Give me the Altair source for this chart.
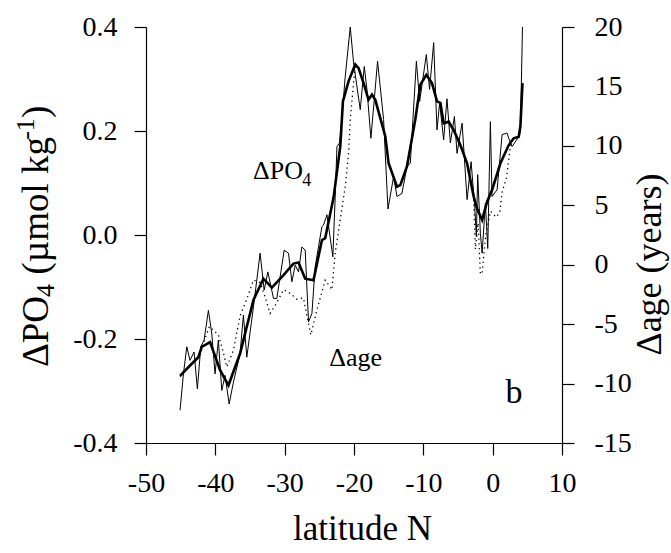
import altair as alt
import pandas as pd

# ---------------- data ----------------
thin_lat = [-45.09, -44.60, -44.12, -43.65, -43.07, -42.59, -42.10, -41.62, -41.00, -40.51,
            -40.04, -39.56, -39.07, -38.59, -38.01, -37.39, -36.43, -35.95, -35.46, -34.50,
            -33.54, -32.96, -32.43, -31.61, -31.13, -30.07, -29.45, -28.96, -28.48, -28.00,
            -27.52, -27.04, -26.56, -26.07, -25.60, -24.63, -24.40, -23.90, -23.05, -22.71,
            -22.46, -22.08, -21.74, -21.30, -20.54, -20.06, -19.10, -18.52, -18.13, -17.56,
            -16.60, -15.73, -15.10, -14.29, -13.80, -13.08, -12.36, -11.88, -11.00, -10.53,
            -9.57, -9.10, -8.51, -8.03, -7.65, -7.07, -6.59, -6.10, -5.52, -5.14,
            -4.41, -3.69, -3.11, -2.59, -2.35, -2.16, -1.77, -1.52, -1.05, -0.71,
            -0.33, -0.09, 0.64, 1.36, 2.08, 2.32, 2.80, 3.76, 4.00, 4.30]
thin_po4 = [-0.337, -0.267, -0.215, -0.241, -0.225, -0.296, -0.215, -0.202, -0.145, -0.190,
            -0.267, -0.202, -0.299, -0.270, -0.325, -0.283, -0.228, -0.154, -0.235, -0.138,
            -0.035, -0.106, -0.071, -0.122, -0.122, -0.029, -0.035, -0.090, -0.058, -0.071,
            -0.023, -0.029, -0.167, -0.151, -0.061, 0.016, 0.019, 0.039, -0.042, 0.074,
            0.170, 0.177, 0.222, 0.300, 0.400, 0.331, 0.241, 0.324, 0.280, 0.186,
            0.334, 0.222, 0.050, 0.112, 0.074, 0.080, 0.132, 0.138, 0.334, 0.257,
            0.347, 0.280, 0.370, 0.202, 0.254, 0.183, 0.262, 0.177, 0.228, 0.157,
            0.215, 0.068, 0.141, 0.055, -0.003, 0.116, 0.003, -0.035, 0.061, -0.026,
            0.218, 0.074, 0.087, 0.193, 0.196, 0.186, 0.170, 0.189, 0.200, 0.400]

smooth_lat = [-45.09, -43.65, -42.45, -41.96, -40.76, -39.31, -38.11, -36.43, -34.50, -33.06,
              -31.85, -30.17, -28.73, -28.00, -27.04, -25.84, -24.63, -24.15, -22.95, -21.98,
              -21.60, -20.78, -19.82, -19.34, -18.62, -17.90, -17.41, -16.93, -15.49, -15.01,
              -13.80, -13.32, -12.36, -11.16, -10.43, -9.57, -8.75, -8.03, -7.54, -7.07,
              -6.35, -5.63, -4.66, -3.69, -2.74, -2.25, -1.52, -0.80, -0.08, 1.12,
              2.32, 3.04, 3.76, 4.00, 4.30]
smooth_po4 = [-0.271, -0.251, -0.235, -0.215, -0.206, -0.260, -0.289, -0.228, -0.125, -0.084,
              -0.101, -0.077, -0.055, -0.053, -0.084, -0.087, -0.010, -0.006, 0.072, 0.170,
              0.257, 0.296, 0.328, 0.321, 0.292, 0.260, 0.270, 0.260, 0.190, 0.138,
              0.093, 0.096, 0.132, 0.222, 0.289, 0.308, 0.292, 0.257, 0.254, 0.215,
              0.218, 0.202, 0.173, 0.138, 0.074, 0.051, 0.029, 0.064, 0.087, 0.138,
              0.173, 0.186, 0.189, 0.209, 0.292]

age_lat = [-45.09, -43.65, -42.45, -41.72, -40.86, -39.56, -38.84, -38.35, -37.39, -36.43,
           -35.46, -34.50, -33.54, -32.82, -32.10, -31.13, -30.17, -29.21, -28.24, -27.28,
           -26.80, -26.22, -25.35, -24.15, -23.18, -22.71, -21.99, -21.26, -20.78, -20.54,
           -19.82, -19.34, -18.62, -17.90, -17.41, -16.93, -15.49, -15.01, -13.80, -13.32,
           -12.36, -11.16, -10.43, -9.57, -8.75, -8.03, -7.54, -7.07, -6.35, -5.63,
           -4.66, -3.69, -2.74, -2.49, -2.10, -1.77, -1.52, -1.00, -0.30, 0.50,
           1.03, 1.36, 1.99, 2.60, 3.04, 3.76, 4.00, 4.30]
age_val = [-9.4, -8.5, -7.8, -6.6, -5.2, -5.9, -7.4, -8.6, -7.2, -4.3,
           -2.9, -1.3, -1.5, -2.7, -4.1, -3.2, -2.1, -2.4, -2.9, -2.8,
           -4.3, -5.9, -3.8, -1.3, -2.1, 1.0, 3.8, 6.6, 9.4, 12.2,
           16.85, 16.54, 15.28, 13.88, 14.31, 13.88, 10.81, 8.54, 6.57, 6.70,
           8.28, 12.21, 15.14, 15.98, 15.28, 13.74, 13.61, 11.91, 12.04, 11.34,
           10.07, 8.54, 5.74, 1.3, 3.5, -0.8, -0.7, 2.5, 4.5, 4.0,
           4.4, 6.1, 7.3, 10.2, 10.64, 10.77, 11.64, 15.3]

x_ticks = [-50, -40, -30, -20, -10, 0, 10]
po4_ticks = [-0.4, -0.2, 0.0, 0.2, 0.4]
age_ticks = [-15, -10, -5, 0, 5, 10, 15, 20]

# annotation texts placed in data coordinates (lat, ΔPO4)
ann_po4_main = ("ΔPO", -34.55, 0.107)
ann_po4_sub = ("4", -27.46, 0.095)
ann_age = ("Δage", -23.57, -0.2525)
ann_panel = ("b", 1.84, -0.324)

FONT = "Liberation Serif"
MINUS = "replace(datum.label, '\u2212', '-')"
RIGHT_LBL = "datum.value < 0 ? replace(datum.label, '\u2212', '-') : '\u2004' + datum.label"

xscale = alt.Scale(domain=[-50, 10], nice=False, zero=False)
yscale = alt.Scale(domain=[-0.4, 0.4], nice=False, zero=False)
ascale = alt.Scale(domain=[-15, 20], nice=False, zero=False)

df_thin = pd.DataFrame({"lat": thin_lat, "po4": thin_po4})
df_smooth = pd.DataFrame({"lat": smooth_lat, "po4": smooth_po4})
df_age = pd.DataFrame({"lat": age_lat, "age": age_val})

x_axis = alt.Axis(values=x_ticks, labelExpr=MINUS, title="latitude N",
                  titleX=216, titleY=96, titleAlign="center", titleBaseline="alphabetic",
                  titleFontSize=35, labelPadding=14, labelFlush=False)
y_axis = alt.Axis(values=po4_ticks, format=".1f", labelExpr=MINUS, title="",
                  labelPadding=17, labelFlush=False)


def xenc():
    return alt.X("lat:Q", scale=xscale, axis=x_axis)


def yenc():
    return alt.Y("po4:Q", scale=yscale, axis=y_axis)


thin = alt.Chart(df_thin).mark_line(color="black", strokeWidth=1).encode(x=xenc(), y=yenc())
thick = alt.Chart(df_smooth).mark_line(color="black", strokeWidth=2.6).encode(x=xenc(), y=yenc())


def ann_layer(item, size):
    txt, la, va = item
    d = pd.DataFrame({"t": [txt], "lat": [la], "po4": [va]})
    return alt.Chart(d).mark_text(align="left", baseline="alphabetic", fontSize=size,
                                  font=FONT, color="black").encode(
        x=xenc(), y=yenc(), text="t:N")


def title_piece(txt, px, py, size):
    d = pd.DataFrame({"t": [txt]})
    return alt.Chart(d).mark_text(align="left", baseline="alphabetic", angle=270,
                                  fontSize=size, font=FONT, color="black").encode(
        x=alt.value(px), y=alt.value(py), text="t:N")


# left axis title "ΔPO4 (µmol kg-1)" built from pieces (subscript / superscript)
left_title = [
    title_piece("ΔPO", -98, 340, 37),
    title_piece("4", -92, 270, 26),
    title_piece("(µmol kg", -98, 247.5, 37),
    title_piece("-1", -112, 112.8, 26),
    title_piece(")", -98, 91.1, 37),
]

inner = alt.layer(
    thin, thick,
    ann_layer(ann_po4_main, 26), ann_layer(ann_po4_sub, 18),
    ann_layer(ann_age, 26), ann_layer(ann_panel, 34),
    *left_title,
)

dotted = alt.Chart(df_age).mark_line(color="black", strokeWidth=1.3,
                                     strokeDash=[1.3, 3.5], strokeCap="butt").encode(
    x=xenc(),
    y=alt.Y("age:Q", scale=ascale,
            axis=alt.Axis(orient="right", values=age_ticks, labelExpr=RIGHT_LBL,
                          title="Δage (years)", titleAngle=270, titleX=98, titleY=237,
                          titleAlign="center", titleBaseline="alphabetic",
                          titleFontSize=36, labelPadding=20, labelFlush=False)),
)

chart = alt.layer(dotted, inner).resolve_scale(y="independent").properties(
    width=416, height=416,
    autosize=alt.AutoSizeParams(type="none"),
    padding={"left": 146, "top": 27, "right": 109, "bottom": 110},
    background="white",
).configure_view(stroke=None).configure_axis(
    domainColor="black", domainWidth=1.2, tickColor="black", tickWidth=1.2, tickSize=12,
    grid=False, labelFont=FONT, labelFontSize=28, labelColor="black",
    titleFont=FONT, titleColor="black", titleFontWeight="normal", labelOverlap=False,
)

chart.save("out.html", embed_options={"renderer": "svg", "actions": False})
